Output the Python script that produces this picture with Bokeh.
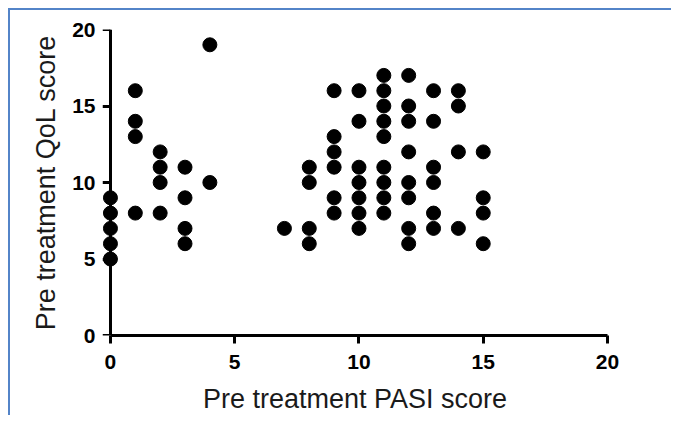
from bokeh.plotting import figure
from bokeh.models import Range1d, FixedTicker, LinearAxis
from bokeh.embed import file_html
from bokeh.resources import INLINE

# Data (PASI vs QoL, pre treatment)
pasi = [0, 0, 0, 0, 0,
        1, 1, 1, 1,
        2, 2, 2, 2,
        3, 3, 3, 3,
        4, 4,
        7,
        8, 8, 8, 8,
        9, 9, 9, 9, 9, 9,
        10, 10, 10, 10, 10, 10, 10,
        11, 11, 11, 11, 11, 11, 11, 11, 11,
        12, 12, 12, 12, 12, 12, 12, 12,
        13, 13, 13, 13, 13, 13,
        14, 14, 14, 14,
        15, 15, 15, 15]
qol = [9, 8, 7, 6, 5,
       16, 14, 13, 8,
       12, 11, 10, 8,
       11, 9, 7, 6,
       19, 10,
       7,
       11, 10, 7, 6,
       16, 13, 12, 11, 9, 8,
       16, 14, 11, 10, 9, 8, 7,
       17, 16, 15, 14, 13, 11, 10, 9, 8,
       17, 15, 14, 12, 10, 9, 7, 6,
       16, 14, 11, 10, 8, 7,
       16, 15, 12, 7,
       12, 9, 8, 6]
ticks = [0, 5, 10, 15, 20]
x_title = "Pre treatment PASI score"
y_title = "Pre treatment QoL score"

p = figure(width=663, height=407, output_backend="svg", toolbar_location=None,
           x_range=Range1d(-0.32, 20), y_range=Range1d(0, 20),
           min_border_left=92, min_border_right=66, min_border_top=19, min_border_bottom=82)
p.styles = {"margin": "8px 0 0 8px",
            "border-top": "2px solid #5384c8", "border-left": "2px solid #5384c8"}
p.outline_line_color = None
p.grid.visible = False

p.scatter(pasi, qol, size=14, marker="circle", fill_color="black", line_color="black")

def style(ax):
    ax.ticker = FixedTicker(ticks=ticks)
    ax.minor_tick_line_color = None
    ax.axis_line_width = 3
    ax.axis_line_color = "black"
    ax.major_tick_line_width = 3
    ax.major_tick_line_color = "black"
    ax.major_tick_out = 8
    ax.major_tick_in = 0
    ax.major_label_text_font = "Liberation Sans"
    ax.major_label_text_font_style = "bold"
    ax.major_label_text_font_size = "21px"
    ax.major_label_text_color = "black"
    ax.axis_label_text_font = "Liberation Sans"
    ax.axis_label_text_font_style = "normal"
    ax.axis_label_text_font_size = "27px"
    ax.axis_label_text_color = "#1a1a1a"

xa = p.xaxis[0]
style(xa)
xa.axis_label = x_title
xa.bounds = (0, 20)
xa.major_label_standoff = 11
xa.axis_label_standoff = 12

# left axis: tick labels and title only
ya = p.yaxis[0]
style(ya)
ya.axis_label = y_title
ya.axis_line_color = None
ya.major_tick_line_color = None
ya.major_tick_out = 0
ya.major_label_standoff = 7
ya.axis_label_standoff = 8

# axis line and ticks at x = 0
y0 = LinearAxis(fixed_location=0)
style(y0)
y0.major_tick_out = 0
y0.major_tick_in = 8
y0.major_label_text_font_size = "0px"
y0.major_label_text_alpha = 0
p.add_layout(y0, "right")

open("out.html", "w").write(file_html(p, INLINE))
